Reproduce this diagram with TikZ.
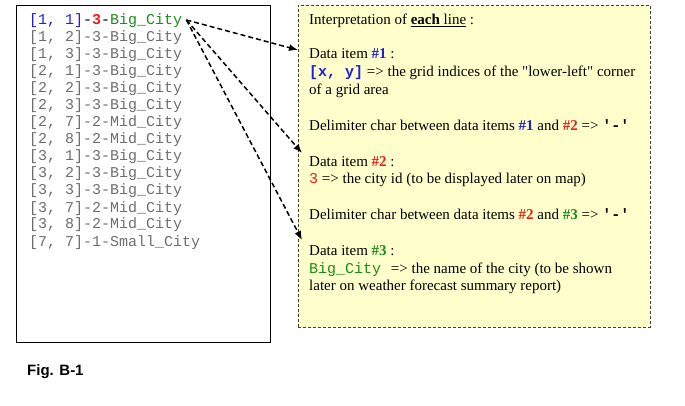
\documentclass[tikz,border=0pt]{standalone}
\usepackage{fontspec}
\setmainfont{Liberation Serif}
\setmonofont{Liberation Mono}
\setsansfont{Liberation Sans}
\usetikzlibrary{arrows.meta,calc}
\definecolor{cblue}{RGB}{30,30,225}
\definecolor{cred}{RGB}{235,30,30}
\definecolor{cgreen}{RGB}{25,140,25}
\definecolor{cgray}{RGB}{110,110,110}
\definecolor{cyel}{RGB}{255,255,204}
\begin{document}
\begin{tikzpicture}[x=1pt,y=-1pt,
  mono/.style={font=\fontsize{15}{17}\selectfont\ttfamily, inner sep=0pt, anchor=base west},
  graymono/.style={mono, text=cgray},
  serif/.style={font=\fontsize{15}{17.6}\selectfont, inner sep=0pt, anchor=base west, align=left},
  link/.style={dash pattern=on 5pt off 3pt, line width=1.5pt, -{Latex[length=9pt,width=7pt]}}]
\useasboundingbox (0,0) rectangle (685,406);
% left box
\node[draw, line width=1.2pt, minimum width=254pt, minimum height=337pt, anchor=north west, inner sep=0pt] (lbox) at (16,5) {};
\node[mono] (l1) at (29,25) {\textcolor{cblue}{[1, 1]}-\textcolor{cred}{\textbf{3}}-\textcolor{cgreen}{Big\_City}};
\foreach \t [count=\i] in {{1, 2]-3-Big\_City},{1, 3]-3-Big\_City},{2, 1]-3-Big\_City},{2, 2]-3-Big\_City},{2, 3]-3-Big\_City},{2, 7]-2-Mid\_City},{2, 8]-2-Mid\_City},{3, 1]-3-Big\_City},{3, 2]-3-Big\_City},{3, 3]-3-Big\_City},{3, 7]-2-Mid\_City},{3, 8]-2-Mid\_City},{7, 7]-1-Small\_City}}
  \node[graymono] (r\i) at (29,25+17*\i) {{[}\t};
% right box
\node[draw=black!75, dash pattern=on 3pt off 2pt, line width=0.9pt, fill=cyel, minimum width=352pt, minimum height=322pt, anchor=north west, inner sep=0pt] (rbox) at (298,5) {};
\node[serif] (title) at (309,25) {Interpretation of \underline{\textbf{each} line} :};
\node[serif] (d1) at (309,59) {Data item \textcolor{cblue}{\textbf{\#1}} :};
\node[serif] (d1b) at (309,94.6) {\textcolor{cblue}{\texttt{\textbf{[x, y]}}} => the grid indices of the \textquotedbl lower-left\textquotedbl{} corner\\ of a grid area};
\node[serif] (dl1) at (309,131) {Delimiter char between data items \textcolor{cblue}{\textbf{\#1}} and \textcolor{cred}{\textbf{\#2}} => \texttt{\textbf{'-'}}};
\node[serif] (d2) at (309,167) {Data item \textcolor{cred}{\textbf{\#2}} :};
\node[serif] (d2b) at (309,184) {\textcolor{cred}{\texttt{3}} => the city id (to be displayed later on map)};
\node[serif] (dl2) at (309,219) {Delimiter char between data items \textcolor{cred}{\textbf{\#2}} and \textcolor{cgreen}{\textbf{\#3}} => \texttt{\textbf{'-'}}};
\node[serif] (d3) at (309,255) {Data item \textcolor{cgreen}{\textbf{\#3}} :};
\node[serif] (d3b) at (309,290.6) {\textcolor{cgreen}{\texttt{Big\_City}}\hspace{0.4em} => the name of the city (to be shown\\ later on weather forecast summary report)};
% caption
\node[font=\fontsize{15}{17}\selectfont\sffamily\bfseries, inner sep=0pt, anchor=base west] (fig) at (27,375) {Fig. B-1};
% connectors
\coordinate (src) at ($(l1.base east)+(4,-5)$);
\coordinate (t1) at ($(rbox.north west)+(0,45)$);
\coordinate (t2) at ($(rbox.north west)+(4,148)$);
\coordinate (t3) at ($(rbox.north west)+(4,235)$);
\draw[link] (src) -- (t1);
\draw[link] (src) -- (t2);
\draw[link] (src) -- (t3);
\end{tikzpicture}
\end{document}
